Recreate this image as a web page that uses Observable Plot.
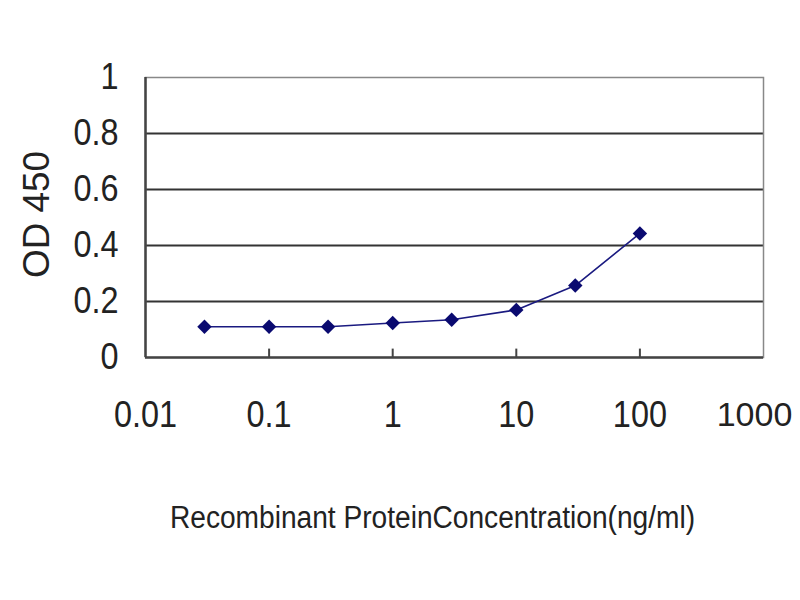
<!DOCTYPE html>
<html><head><meta charset="utf-8">
<script src="https://cdn.jsdelivr.net/npm/d3@7"></script>
<script src="https://cdn.jsdelivr.net/npm/@observablehq/plot@0.6"></script>
<style>body{margin:0;background:#fff;}</style>
</head><body><div id="chart"></div>
<script>
const concentrations = [0.03, 0.1, 0.3, 1, 3, 10, 30, 100];
const od450 = [0.11, 0.11, 0.11, 0.123, 0.135, 0.17, 0.257, 0.443];
const xTicks = [0.01, 0.1, 1, 10, 100, 1000];
const yTicks = [0, 0.2, 0.4, 0.6, 0.8, 1];
const gridValues = [0.2, 0.4, 0.6, 0.8];
const innerTicks = [0.1, 1, 10, 100];
const xTitle = "Recombinant ProteinConcentration(ng/ml)";
const yTitle = "OD 450";

const data = concentrations.map((c, i) => ({c, od: od450[i]}));

const chart = Plot.plot({
  width: 800, height: 600,
  marginLeft: 145, marginRight: 37, marginTop: 77, marginBottom: 243,
  style: {fontFamily: "'Liberation Sans', Arial, sans-serif", fontSize: "36px", color: "#222", background: "#fff", overflow: "visible"},
  x: {type: "log", domain: [0.01, 1000]},
  y: {domain: [0, 1]},
  marks: [
    Plot.ruleY(gridValues, {stroke: "#333", strokeWidth: 2}),
    Plot.frame({stroke: "#888", strokeWidth: 1.5}),
    Plot.ruleY([0], {stroke: "#444", strokeWidth: 2.5}),
    Plot.ruleX([0.01], {stroke: "#444", strokeWidth: 2.5}),
    Plot.ruleX(innerTicks, {y1: 0, y2: 0.03, stroke: "#444", strokeWidth: 2}),
    Plot.axisX(xTicks, {tickSize: 0, tickPadding: 44, tickFormat: d => String(d), label: null, fontSize: 36}),
    Plot.axisY(yTicks, {tickSize: 0, tickPadding: 27, tickFormat: d => String(d), label: null, fontSize: 36}),
    Plot.text([xTitle], {frameAnchor: "bottom", dx: -22, dy: 170, fontSize: 31, fill: "#222"}),
    Plot.text([yTitle], {frameAnchor: "left", textAnchor: "middle", dx: -108, dy: -3, rotate: -90, fontSize: 36, fill: "#222"}),
    Plot.line(data, {x: "c", y: "od", stroke: "#1a1a80", strokeWidth: 1.6}),
    Plot.dot(data, {x: "c", y: "od", symbol: "diamond2", r: 6.5, fill: "#0a0a70", stroke: "none"})
  ]
});
document.getElementById("chart").append(chart);
const tickLabels = new Set([...xTicks, ...yTicks].map(String));
const lastX = String(xTicks[xTicks.length - 1]);
d3.select(chart).selectAll("text").each(function() {
  const t = this.textContent;
  const sel = d3.select(this);
  if (t === xTitle) sel.attr("textLength", 525).attr("lengthAdjust", "spacingAndGlyphs");
  else if (t === yTitle) sel.attr("textLength", 127).attr("lengthAdjust", "spacingAndGlyphs");
  else if (t === lastX) {
    sel.style("font-size", "34px").attr("dx", -9);
  } else if (tickLabels.has(t)) {
    const w = this.getComputedTextLength();
    sel.attr("textLength", w * 0.9).attr("lengthAdjust", "spacingAndGlyphs");
  }
});
</script>
</body></html>
